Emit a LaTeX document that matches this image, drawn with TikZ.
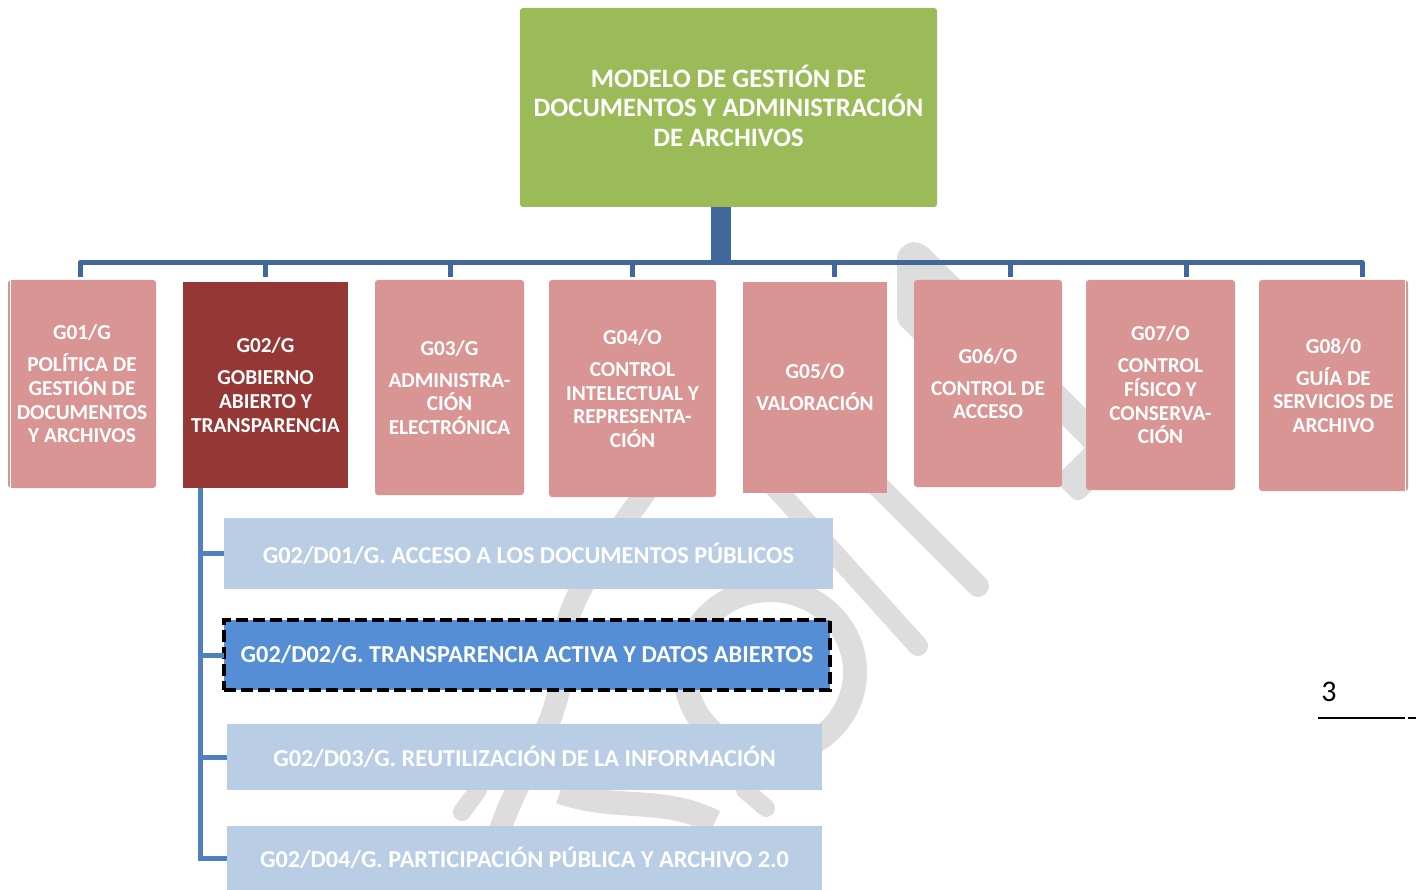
\documentclass[tikz,border=0pt]{standalone}
\usepackage{fontspec}
\setmainfont{Carlito}
\usetikzlibrary{calc}
\definecolor{greenc}{RGB}{155,187,89}
\definecolor{pinkc}{RGB}{217,149,148}
\definecolor{darkred}{RGB}{149,55,53}
\definecolor{lblue}{RGB}{185,205,229}
\definecolor{mblue}{RGB}{85,142,213}
\definecolor{barblue}{RGB}{64,104,155}
\definecolor{lineblue}{RGB}{79,129,189}
\definecolor{wmgray}{RGB}{221,221,221}
\tikzset{
  box/.style={inner sep=0pt, outer sep=0pt, anchor=north west, text=white, align=center},
  topbox/.style={box, fill=greenc, rounded corners=3pt, font=\bfseries\fontsize{26.6}{29.5}\selectfont},
  pbox/.style={box, fill=pinkc, rounded corners=3pt, font=\bfseries\fontsize{21.3}{23.7}\selectfont},
  dbox/.style={box, fill=lblue, font=\bfseries\fontsize{24.3}{28}\selectfont},
  barline/.style={draw=barblue, line width=5pt},
  lconn/.style={draw=lineblue, line width=5pt},
  wm/.style={draw=wmgray, line cap=round, line join=round},
  wmfill/.style={fill=wmgray},
}
\newcommand{\gap}{\\[8.3pt]}
\begin{document}
\begin{tikzpicture}[x=1pt,y=-1pt]
\useasboundingbox (0,0) rectangle (1416,890);
\fill[white] (0,0) rectangle (1416,890);
% watermark
\fill[wmfill, rounded corners=6pt] (897,322) -- (897,252) -- (910,241) -- (924,244) -- (1010,330) -- (1010,435) -- cycle;
\fill[wmfill, rounded corners=3pt] (1055,378) -- (1098,421) -- (1098,484) -- (1082,500) -- (1074,500) -- (1055,481) -- (1055,477) -- (1085,448) -- (1055,418) -- cycle;
\draw[wm, line width=22pt] (860,468) -- (978,586);
\draw[wm, line width=20pt] (770,482) -- (918,646);
\draw[wm, line width=24pt] (770,672) ellipse [x radius=85pt, y radius=82pt];
\draw[wm, line width=22pt] (648,488) .. controls (610,545) and (560,600) .. (562,660) .. controls (563,720) and (520,770) .. (500,830);
\draw[wm, line width=24pt, line cap=butt] (560,792) .. controls (620,812) and (660,795) .. (715,822);
\draw[wm, line width=18pt] (745,790) -- (766,808);
\draw[wm, line width=18pt] (478,790) -- (462,812);
% boxes
\node[topbox, minimum width=417pt, minimum height=199pt] (top) at (520,8) {MODELO DE GESTIÓN DE\\DOCUMENTOS Y ADMINISTRACIÓN\\DE ARCHIVOS\\[-25.5pt]};
\node[pbox, minimum width=148pt, minimum height=208pt] (g1) at (8,280) {G01/G\gap POLÍTICA DE\\GESTIÓN DE\\DOCUMENTOS\\Y ARCHIVOS};
\node[pbox, fill=darkred, rounded corners=0pt, minimum width=165pt, minimum height=206pt] (g2) at (183,282) {G02/G\gap GOBIERNO\\ABIERTO Y\\TRANSPARENCIA};
\node[pbox, minimum width=149pt, minimum height=215pt] (g3) at (375,280) {G03/G\gap ADMINISTRA-\\CIÓN\\ELECTRÓNICA};
\node[pbox, minimum width=167pt, minimum height=217pt] (g4) at (549,280) {G04/O\gap CONTROL\\INTELECTUAL Y\\REPRESENTA-\\CIÓN};
\node[pbox, rounded corners=0pt, minimum width=144pt, minimum height=211pt] (g5) at (743,282) {G05/O\gap VALORACIÓN};
\node[pbox, minimum width=148pt, minimum height=207pt] (g6) at (914,280) {G06/O\gap CONTROL DE\\ACCESO};
\node[pbox, minimum width=149pt, minimum height=210pt] (g7) at (1086,280) {G07/O\gap CONTROL\\FÍSICO Y\\CONSERVA-\\CIÓN};
\node[pbox, minimum width=149pt, minimum height=211pt] (g8) at (1259,280) {G08/0\gap GUÍA DE\\SERVICIOS DE\\ARCHIVO};
\draw[white, line width=1pt] ([xshift=2pt]g1.north west) -- ([xshift=2pt]g1.south west);
\draw[white, line width=1pt] ([xshift=-2.5pt]g8.north east) -- ([xshift=-2.5pt]g8.south east);
\node[dbox, minimum width=609pt, minimum height=71pt] (d1) at (224,518) {G02/D01/G. ACCESO A LOS DOCUMENTOS PÚBLICOS};
\node[dbox, fill=mblue, draw=black, line width=4pt, dash pattern=on 12pt off 5pt, minimum width=606pt, minimum height=70pt] (d2) at (224,620) {G02/D02/G. TRANSPARENCIA ACTIVA Y DATOS ABIERTOS};
\node[dbox, minimum width=595pt, minimum height=66pt] (d3) at (227,724) {G02/D03/G. REUTILIZACIÓN DE LA INFORMACIÓN};
\node[dbox, minimum width=595pt, minimum height=64pt] (d4) at (227,826) {G02/D04/G. PARTICIPACIÓN PÚBLICA Y ARCHIVO 2.0};
% top connectors
\coordinate (tr) at (721,262.5);
\foreach \n/\x in {1/80,2/265,3/450,4/632,5/834,6/1010,7/1186,8/1362} \coordinate (b\n) at (\x,262.5);
\draw[barline, line width=20pt] (top.south -| tr) -- (tr);
\draw[barline, line join=round] ($(b1 |- g1.north)+(0,-3)$) -- (b1) -- (b8) -- ($(b8 |- g8.north)+(0,-3)$);
\foreach \n in {2,...,7} \draw[barline] (b\n) -- ($(b\n |- g1.north)+(0,-3)$);
% left connectors
\coordinate (lx) at (200,0);
\draw[lconn] (g2.south -| lx) -- (lx |- d4.west) -- (d4.west);
\foreach \n in {1,2,3} \draw[lconn] (lx |- d\n.west) -- (d\n.west);
% page number
\node[font=\fontsize{30}{36}\selectfont, inner sep=0pt] (pg) at (1329,692) {3};
\draw[black, line width=1.8pt] (1318,718) -- (1405,718);
\draw[black, line width=1.8pt] (1408,718) -- (1416,718);
\end{tikzpicture}
\end{document}
